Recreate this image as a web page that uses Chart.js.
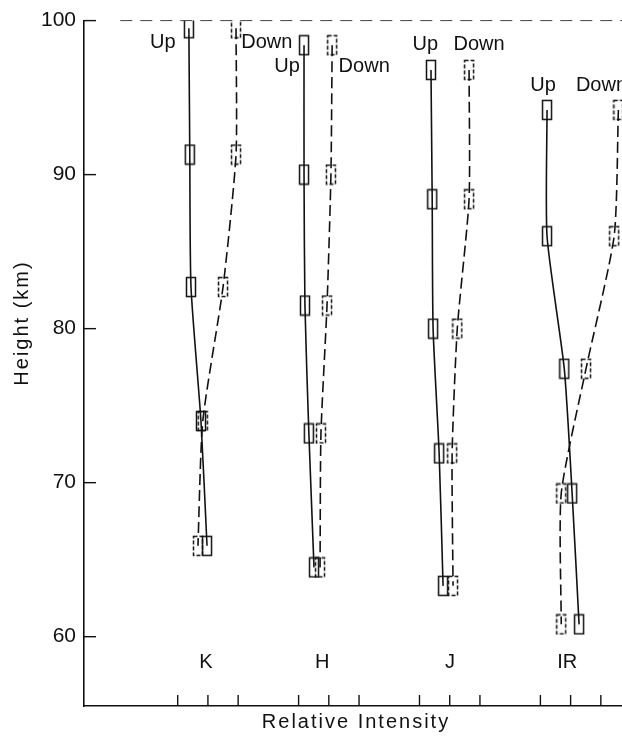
<!DOCTYPE html>
<html>
<head>
<meta charset="utf-8">
<script src="https://cdn.jsdelivr.net/npm/chart.js@4.4.1/dist/chart.umd.min.js"></script>
<style>
  html, body { margin: 0; padding: 0; background: #fff; }
  #wrap { width: 622px; height: 737px; }
</style>
</head>
<body>
<div id="wrap"><canvas id="chart" width="622" height="737"></canvas></div>
<script>
// heights (km) and relative intensity positions
const bandNames = ["K", "H", "J", "IR"];
const kHeight = [99.5, 91.3, 82.7, 74.0, 65.9];
const kUp = [3.37, 3.40, 3.44, 3.77, 3.97];
const kDown = [4.93, 4.93, 4.50, 3.83, 3.67];
const hHeight = [98.4, 90.0, 81.5, 73.2, 64.5];
const hUp = [7.18, 7.18, 7.21, 7.34, 7.51];
const hDown = [8.11, 8.07, 7.94, 7.74, 7.71];
const jHeight = [96.8, 88.4, 80.0, 71.9, 63.3];
const jUp = [11.38, 11.42, 11.45, 11.65, 11.78];
const jDown = [12.64, 12.64, 12.25, 12.08, 12.11];
const irHeight = [94.2, 86.0, 77.4, 69.3, 60.8];
const irUp = [15.22, 15.22, 15.79, 16.05, 16.28];
const irDown = [17.58, 17.44, 16.51, 15.69, 15.69];
const yTicks = [60, 70, 80, 90, 100];
const xTicks = [3, 4, 5, 7, 8, 9, 11, 12, 13, 15, 16, 17];

// Up / Down tags and band letters (data coordinates)
const tagText = ["Up", "Down", "Up", "Down", "Up", "Down", "Up", "Down"];
const tagX = [2.51, 5.95, 6.62, 9.17, 11.19, 12.97, 15.09, 17.02];
const tagY = [98.6, 98.6, 97.0, 97.0, 98.45, 98.45, 95.8, 95.8];
const bandX = [3.93, 7.78, 12.01, 15.89];
const bandY = 58.3;

const INK = "#111";
const FONT = "'Liberation Sans', Arial, sans-serif";

function pts(xs, ys) {
  return xs.map((x, i) => ({ x, y: ys[i] }));
}

// little error boxes used as point markers
function boxStyle(dashed) {
  const c = document.createElement("canvas");
  c.width = 12;
  c.height = 22;
  const g = c.getContext("2d");
  g.strokeStyle = INK;
  g.lineWidth = 1.5;
  if (dashed) g.setLineDash([4, 2]);
  g.strokeRect(1.5, 1.5, 9, 19);
  return c;
}
const upBox = boxStyle(false);
const downBox = boxStyle(true);

function series(xs, ys, up) {
  return {
    data: pts(xs, ys),
    showLine: true,
    borderColor: INK,
    borderWidth: 1.6,
    borderDash: up ? [] : [11, 5],
    tension: 0.2,
    pointStyle: up ? upBox : downBox,
    pointRadius: 5,
    pointHoverRadius: 5
  };
}

const datasets = [
  series(kUp, kHeight, true), series(kDown, kHeight, false),
  series(hUp, hHeight, true), series(hDown, hHeight, false),
  series(jUp, jHeight, true), series(jDown, jHeight, false),
  series(irUp, irHeight, true), series(irDown, irHeight, false)
];

// inward ticks, top dashed line, text
const decor = {
  id: "decor",
  afterDraw(chart) {
    const { ctx, chartArea: a, scales: { x, y } } = chart;
    ctx.save();
    ctx.strokeStyle = INK;
    ctx.lineWidth = 1.4;
    yTicks.forEach(v => {
      const py = y.getPixelForValue(v);
      ctx.beginPath();
      ctx.moveTo(a.left, py);
      ctx.lineTo(a.left + 12, py);
      ctx.stroke();
    });
    xTicks.forEach(v => {
      const px = x.getPixelForValue(v);
      ctx.beginPath();
      ctx.moveTo(px, a.bottom);
      ctx.lineTo(px, a.bottom - 11);
      ctx.stroke();
    });

    // top border drawn as a faint dashed line
    ctx.lineWidth = 1;
    ctx.strokeStyle = "#444";
    ctx.setLineDash([12, 8]);
    ctx.beginPath();
    ctx.moveTo(x.getPixelForValue(1.1), y.getPixelForValue(100));
    ctx.lineTo(a.right, y.getPixelForValue(100));
    ctx.stroke();
    ctx.setLineDash([]);

    ctx.fillStyle = INK;
    ctx.textAlign = "center";
    ctx.textBaseline = "middle";
    ctx.font = "20px " + FONT;
    tagText.forEach((t, i) => {
      ctx.fillText(t, x.getPixelForValue(tagX[i]), y.getPixelForValue(tagY[i]));
    });
    bandNames.forEach((t, i) => {
      ctx.fillText(t, x.getPixelForValue(bandX[i]), y.getPixelForValue(bandY));
    });

    // axis titles
    ctx.letterSpacing = "2px";
    ctx.fillText("Relative Intensity", 356, 722);
    ctx.translate(22, 323);
    ctx.rotate(-Math.PI / 2);
    ctx.fillText("Height (km)", 0, 0);
    ctx.restore();
  }
};

new Chart(document.getElementById("chart"), {
  type: "scatter",
  data: { datasets },
  options: {
    responsive: false,
    animation: false,
    devicePixelRatio: 1,
    layout: { autoPadding: false, padding: { top: 18, right: 0, left: 0, bottom: 0 } },
    plugins: { legend: { display: false }, tooltip: { enabled: false } },
    scales: {
      x: {
        type: "linear",
        min: -0.1,
        max: 17.7,
        grid: { display: false, drawTicks: false },
        border: { display: true, color: INK, width: 1.6 },
        ticks: { display: false },
        afterBuildTicks: s => { s.ticks = xTicks.map(v => ({ value: v })); },
        afterFit: s => { s.height = 31; }
      },
      y: {
        type: "linear",
        min: 55.5,
        max: 100,
        grid: { display: false, drawTicks: false },
        border: { display: true, color: INK, width: 1.6 },
        ticks: {
          color: INK,
          padding: 8,
          font: { family: FONT, size: 21 }
        },
        afterBuildTicks: s => { s.ticks = yTicks.map(v => ({ value: v })); },
        afterFit: s => { s.width = 84; }
      }
    }
  },
  plugins: [decor]
});
</script>
</body>
</html>
